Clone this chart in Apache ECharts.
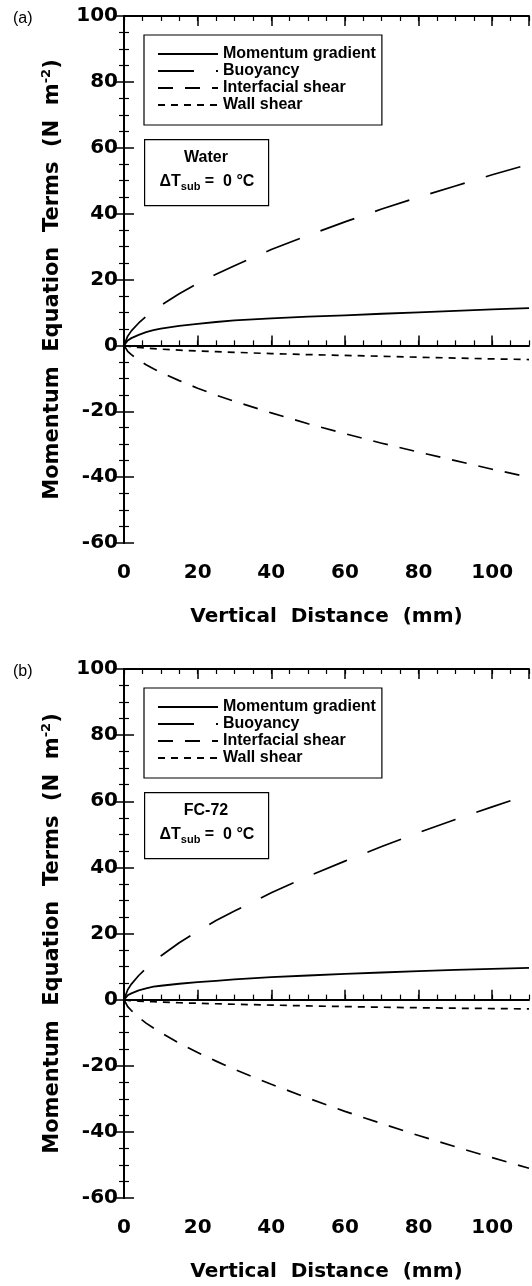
<!DOCTYPE html>
<html>
<head>
<meta charset="utf-8">
<script src="https://cdn.jsdelivr.net/npm/echarts@6/dist/echarts.min.js"></script>
<style>
  html, body { margin: 0; padding: 0; background: #fff; }
  #chart { width: 532px; height: 1286px; }
</style>
</head>
<body>
<div id="chart"></div>
<script>
// Vertical distance along the heated wall (mm)
const distance = [0, 1, 2, 4, 6, 8, 10, 15, 20, 25, 30, 40, 50, 60, 70, 80, 90, 100, 110];

const seriesNames = ['Momentum gradient', 'Buoyancy', 'Interfacial shear', 'Wall shear'];

// (a) Water, ΔTsub = 0 °C  — momentum equation terms (N m^-2)
const waterMomentum    = [0, 1.5, 2.2, 3.2, 4.0, 4.6, 5.1, 5.9, 6.5, 7.1, 7.6, 8.2, 8.7, 9.1, 9.6, 10.0, 10.5, 10.9, 11.3];
const waterBuoyancy    = [0, 2.8, 4.4, 6.8, 8.8, 10.5, 12.1, 15.7, 18.8, 21.6, 24.2, 29.1, 33.4, 37.5, 41.4, 45.0, 48.4, 51.8, 55.0];
const waterInterfacial = [0, -1.8, -2.8, -4.5, -5.9, -7.1, -8.2, -10.7, -13.0, -15.1, -17.0, -20.5, -23.8, -26.8, -29.7, -32.4, -35.0, -37.6, -40.0];
const waterWall        = [0, -0.25, -0.4, -0.65, -0.85, -1.0, -1.15, -1.45, -1.7, -1.9, -2.1, -2.5, -2.8, -3.05, -3.3, -3.6, -3.85, -4.1, -4.3];

// (b) FC-72, ΔTsub = 0 °C
const fcMomentum    = [0, 1.3, 1.9, 2.8, 3.4, 3.9, 4.2, 4.8, 5.3, 5.7, 6.1, 6.8, 7.3, 7.8, 8.2, 8.6, 9.0, 9.3, 9.6];
const fcBuoyancy    = [0, 3.0, 4.7, 7.3, 9.5, 11.4, 13.2, 17.2, 20.7, 23.9, 26.8, 32.3, 37.3, 41.9, 46.3, 50.5, 54.5, 58.3, 62.0];
const fcInterfacial = [0, -2.1, -3.3, -5.4, -7.1, -8.6, -10.0, -13.2, -16.0, -18.6, -21.1, -25.6, -29.8, -33.8, -37.5, -41.1, -44.5, -47.8, -51.0];
const fcWall        = [0, -0.2, -0.3, -0.45, -0.55, -0.65, -0.75, -0.95, -1.1, -1.25, -1.4, -1.65, -1.9, -2.1, -2.3, -2.45, -2.6, -2.7, -2.8];

// Axis ranges
const xRange = { min: 0, max: 110, major: 20, minor: 5 };
const yRange = { min: -60, max: 100, major: 20 };

const panels = [
  { tag: '(a)', fluid: 'Water', top: 16, height: 527,
    values: [waterMomentum, waterBuoyancy, waterInterfacial, waterWall] },
  { tag: '(b)', fluid: 'FC-72', top: 669, height: 529,
    values: [fcMomentum, fcBuoyancy, fcInterfacial, fcWall] }
];

const BLACK = '#000';
const labelFont = 'DejaVu Sans';
const textFont = 'Liberation Sans';

const lineStyles = [
  { type: 'solid', width: 1.8 },
  { type: [36, 22], width: 1.7 },
  { type: [15, 12], width: 1.7 },
  { type: [7, 6], width: 1.7 }
];

const grids = [], xAxes = [], yAxes = [], series = [], legends = [], graphics = [];

panels.forEach((p, g) => {
  grids.push({ left: 124, top: p.top, width: 405, height: p.height, outerBoundsMode: 'none' });

  const xBase = { gridIndex: g, type: 'value', min: xRange.min, max: xRange.max,
    splitLine: { show: false } };
  const yBase = { gridIndex: g, type: 'value', min: yRange.min, max: yRange.max,
    interval: yRange.major, splitLine: { show: false } };
  const frame = { show: true, lineStyle: { color: BLACK, width: 2 } };
  const majorTick = { show: true, inside: true, length: 10, lineStyle: { color: BLACK, width: 1.5 } };
  const minorTickAxis = { show: true, inside: true, length: 5, lineStyle: { color: BLACK, width: 1.2 } };

  const xi = xAxes.length;
  // bottom axis with labels and title
  xAxes.push(Object.assign({}, xBase, {
    position: 'bottom', interval: xRange.major,
    axisLine: frame, axisTick: majorTick,
    axisLabel: { show: true, margin: 20, color: BLACK, fontSize: 20, fontWeight: 'bold',
      fontFamily: labelFont, showMaxLabel: false },
    name: 'Vertical  Distance  (mm)', nameLocation: 'middle', nameGap: 64,
    nameTextStyle: { color: BLACK, fontSize: 20, fontWeight: 'bold', fontFamily: labelFont }
  }));
  // bottom minor ticks
  xAxes.push(Object.assign({}, xBase, {
    position: 'bottom', interval: xRange.minor,
    axisLine: { show: false }, axisTick: minorTickAxis, axisLabel: { show: false }
  }));
  // top frame
  xAxes.push(Object.assign({}, xBase, {
    position: 'top', interval: xRange.major,
    axisLine: frame, axisTick: majorTick, axisLabel: { show: false }
  }));
  xAxes.push(Object.assign({}, xBase, {
    position: 'top', interval: xRange.minor,
    axisLine: { show: false }, axisTick: minorTickAxis, axisLabel: { show: false }
  }));

  const yi = yAxes.length;
  const yMinor = { show: true, splitNumber: 4, length: 5, lineStyle: { color: BLACK, width: 1.2 } };
  yAxes.push(Object.assign({}, yBase, {
    position: 'left', axisLine: frame, axisTick: majorTick, minorTick: yMinor,
    axisLabel: { show: true, margin: 6, color: BLACK, fontSize: 20, fontWeight: 'bold', fontFamily: labelFont },
    name: 'Momentum  Equation  Terms  (N  m{s|-2}{n|)}', nameLocation: 'middle', nameGap: 42,
    nameRotate: 90,
    nameTextStyle: { color: BLACK, fontSize: 21, fontWeight: 'bold', fontFamily: labelFont, lineHeight: 25,
      rich: {
        s: { fontSize: 13, fontWeight: 'bold', fontFamily: labelFont, color: BLACK, lineHeight: 12, verticalAlign: 'top' },
        n: { fontSize: 21, fontWeight: 'bold', fontFamily: labelFont, color: BLACK, lineHeight: 25 }
      } }
  }));
  yAxes.push(Object.assign({}, yBase, {
    position: 'right', axisLine: frame, axisTick: majorTick, minorTick: yMinor,
    axisLabel: { show: false }
  }));

  seriesNames.forEach((name, k) => {
    series.push({
      name: name, type: 'line', xAxisIndex: xi, yAxisIndex: yi,
      data: distance.map((d, j) => [d, p.values[k][j]]),
      symbol: 'none', smooth: false,
      lineStyle: Object.assign({ color: BLACK, cap: 'butt', join: 'round' }, lineStyles[k]),
      itemStyle: { color: BLACK },
      z: 3
    });
  });

  // legend box in the upper left of each panel
  legends.push({
    data: seriesNames, orient: 'vertical', left: 144, top: p.top + 19,
    padding: [11, 6, 12, 13], itemGap: 1, itemWidth: 60, itemHeight: 16,
    borderColor: BLACK, borderWidth: 1.2, backgroundColor: '#fff',
    selectedMode: false,
    itemStyle: { opacity: 0 },
    textStyle: { color: BLACK, fontSize: 16, fontWeight: 'bold', fontFamily: textFont }
  });

  // fluid / subcooling annotation box
  const boxTop = p.top + 123;
  graphics.push({
    type: 'rect', left: 144, top: boxTop, z: 10,
    shape: { width: 124, height: 66 },
    style: { fill: '#fff', stroke: BLACK, lineWidth: 1.2 }
  });
  graphics.push({
    type: 'text', x: 206, y: boxTop + 19, z: 11,
    style: { text: p.fluid, align: 'center', verticalAlign: 'middle',
      font: 'bold 16px "Liberation Sans"', fill: BLACK }
  });
  graphics.push({
    type: 'text', x: 207, y: boxTop + 43, z: 11,
    style: {
      text: '{a|ΔT}{b|sub}{a| =  0 °C}', align: 'center', verticalAlign: 'middle', fill: BLACK,
      rich: {
        a: { fontSize: 16, fontWeight: 'bold', fontFamily: textFont, lineHeight: 20, fill: BLACK },
        b: { fontSize: 11, fontWeight: 'bold', fontFamily: textFont, lineHeight: 6, verticalAlign: 'bottom', fill: BLACK }
      }
    }
  });
  // panel tag
  graphics.push({
    type: 'text', x: 13, y: p.top + 3, z: 11,
    style: { text: p.tag, align: 'left', verticalAlign: 'middle',
      font: '16px "Liberation Sans"', fill: BLACK }
  });
});

const chart = echarts.init(document.getElementById('chart'), null, { renderer: 'canvas' });
chart.setOption({
  backgroundColor: '#fff',
  animation: false,
  grid: grids,
  xAxis: xAxes,
  yAxis: yAxes,
  legend: legends,
  series: series,
  graphic: graphics
});
</script>
</body>
</html>
